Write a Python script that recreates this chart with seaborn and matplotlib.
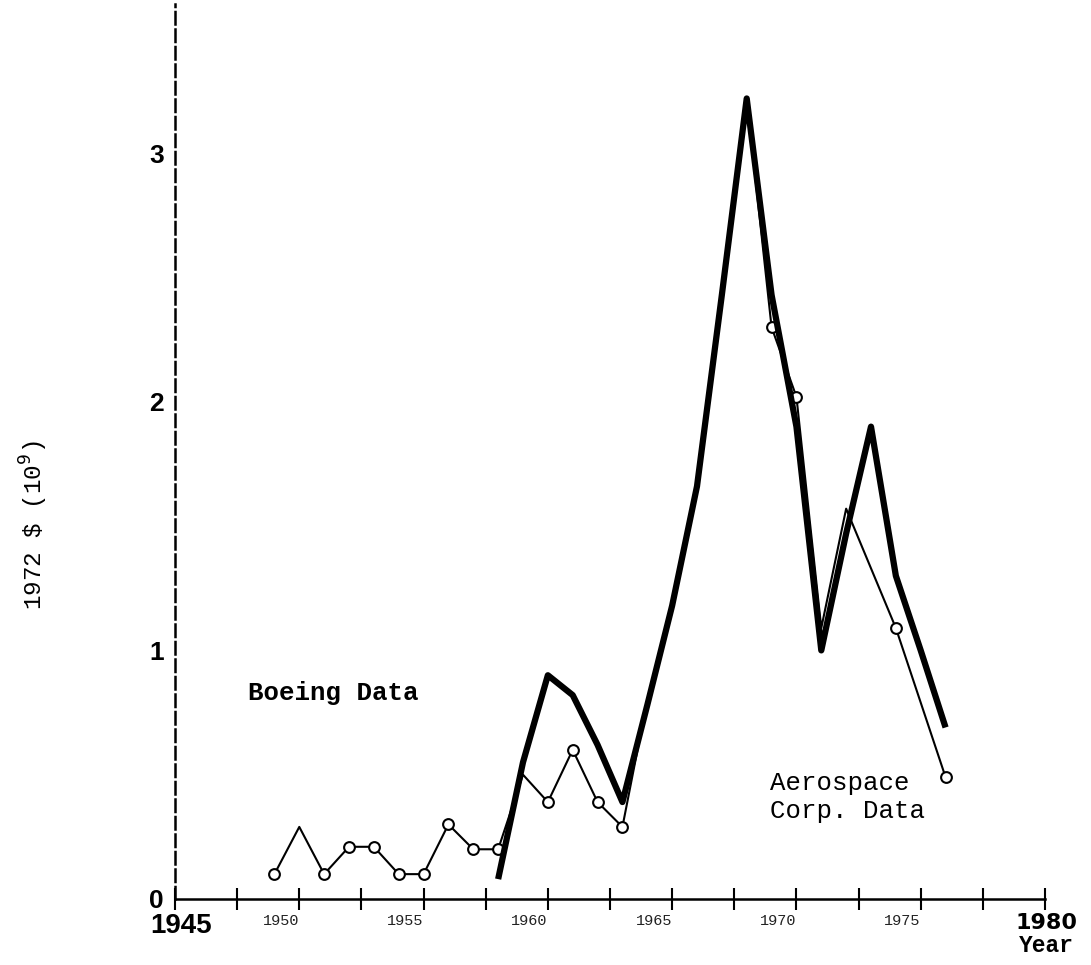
import numpy as np
import pandas as pd
import matplotlib
matplotlib.use("Agg")
import matplotlib.pyplot as plt
import matplotlib.transforms as mtransforms
import seaborn as sns

# Boeing series (thin line, open circles)
boeing_years = [1949, 1950, 1951, 1952, 1953, 1954, 1955, 1956, 1957, 1958,
                1959, 1960, 1961, 1962, 1963, 1964, 1965, 1966, 1967, 1968,
                1969, 1970, 1971, 1972, 1974, 1976]
boeing_values = [0.10, 0.29, 0.10, 0.21, 0.21, 0.10, 0.10, 0.30, 0.20, 0.20,
                 0.50, 0.39, 0.60, 0.39, 0.29, 0.80, 1.18, 1.66, 2.43, 3.22,
                 2.30, 2.02, 1.09, 1.57, 1.09, 0.49]
# points drawn with a circle marker
boeing_marked = [1949, 1951, 1952, 1953, 1954, 1955, 1956, 1957, 1958,
                 1960, 1961, 1962, 1963, 1969, 1970, 1974, 1976]

# Aerospace Corp. series (heavy line)
aero_years = [1958, 1959, 1960, 1961, 1962, 1963, 1964, 1965, 1966, 1967,
              1968, 1969, 1970, 1971, 1972, 1973, 1974, 1975, 1976]
aero_values = [0.08, 0.55, 0.90, 0.82, 0.62, 0.39, 0.78, 1.18, 1.66, 2.43,
               3.22, 2.43, 1.90, 1.00, 1.47, 1.90, 1.30, 1.00, 0.69]

x_ticks = list(np.arange(1945, 1980.1, 2.5))
minor_years = [1950, 1955, 1960, 1965, 1970, 1975]
y_ticks = [0, 1, 2, 3]

sns.set_style("white")
plt.rcParams["font.family"] = ["Liberation Sans", "DejaVu Sans"]
for key in ("text.color", "axes.labelcolor", "xtick.color", "ytick.color"):
    plt.rcParams[key] = "black"

fig = plt.figure(figsize=(10.91, 9.65), dpi=100)
ax = fig.add_axes([175 / 1091, (965 - 899) / 965, 870 / 1091, 895 / 965])

boeing = pd.DataFrame({"year": boeing_years, "value": boeing_values})
aero = pd.DataFrame({"year": aero_years, "value": aero_values})
marked = boeing[boeing["year"].isin(boeing_marked)]

sns.lineplot(data=boeing, x="year", y="value", ax=ax, color="black",
             linewidth=1.5, zorder=2, estimator=None)
sns.scatterplot(data=marked, x="year", y="value", ax=ax, s=60,
                facecolor="white", edgecolor="black", linewidth=1.5, zorder=3)
sns.lineplot(data=aero, x="year", y="value", ax=ax, color="black",
             linewidth=4.5, zorder=4, estimator=None,
             solid_joinstyle="round", solid_capstyle="butt")

ax.set_xlim(1945, 1980)
ax.set_ylim(0, 3.6)
ax.set_xlabel("")
ax.set_ylabel("")

# axes frame: dashed vertical axis, solid horizontal axis
for side in ("top", "right"):
    ax.spines[side].set_visible(False)
ax.spines["left"].set_linewidth(1.8)
ax.spines["left"].set_linestyle((0, (5, 2)))
ax.spines["left"].set_color("black")
ax.spines["bottom"].set_linewidth(1.8)
ax.spines["bottom"].set_color("black")

# ticks every 2.5 years; intermediate year labels sit just left of their tick
ax.set_xticks(x_ticks)
ax.set_xticklabels([str(int(t)) if t in minor_years else "" for t in x_ticks])
ax.tick_params(axis="x", direction="inout", length=16, width=1.5,
               color="black", pad=3, bottom=True)
for lab in ax.get_xticklabels():
    lab.set_fontsize(11)
    lab.set_family(["Liberation Mono", "DejaVu Sans Mono"])
    lab.set_color("#222222")
    lab.set_horizontalalignment("right")

# end-of-axis years drawn in heavier type
trans = mtransforms.blended_transform_factory(ax.transData, fig.transFigure)
ax.text(1945.25, 1 - 913 / 965, "1945", fontsize=20, fontweight="bold",
        ha="center", va="top", transform=trans)
ax.text(1980.05, 1 - 913 / 965, "1980", fontsize=16, fontweight="bold",
        family=["DejaVu Sans"], ha="center", va="top", transform=trans)

mono = ["Liberation Mono", "DejaVu Sans Mono"]
ax.text(1980.05, 1 - 934 / 965, "Year", fontsize=16.5, fontweight="bold",
        family=mono, ha="center", va="top", transform=trans)

ax.set_yticks(y_ticks)
ax.set_yticklabels([str(v) for v in y_ticks], fontsize=19, fontweight="bold")
ax.tick_params(axis="y", length=0, pad=8, left=True)

ax.text(1947.95, 0.83, "Boeing Data", fontsize=18.5, fontweight="bold",
        family=mono, ha="left", va="center")
ax.text(1968.95, 0.41, "Aerospace\nCorp. Data", fontsize=18.5,
        family=mono, ha="left", va="center", linespacing=1.25)

fig.text(34 / 1091, 1 - 525 / 965, r"1972 \$ (10$^9$)", rotation=90,
         fontsize=17.5, family=mono, ha="center", va="center")

fig.savefig("out.png", dpi=100, facecolor="white")
